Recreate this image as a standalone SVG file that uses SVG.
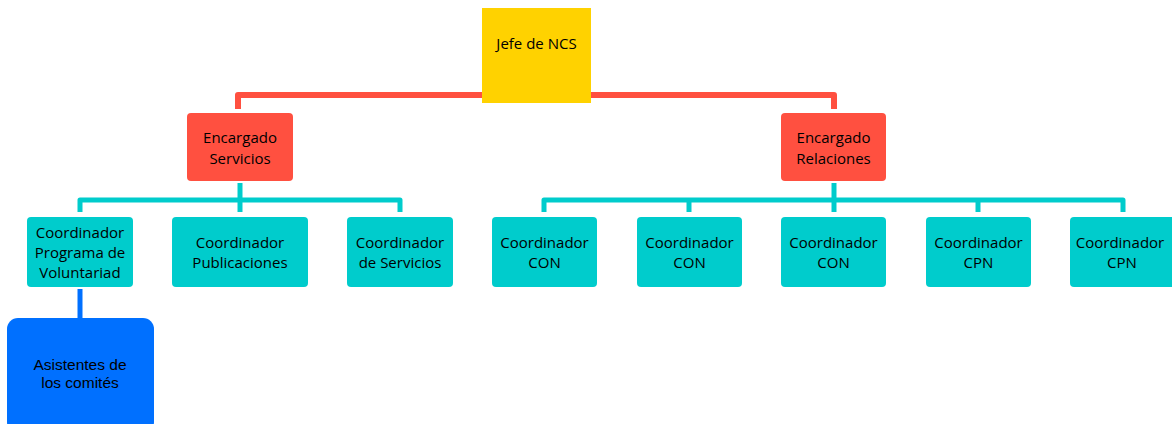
<svg xmlns="http://www.w3.org/2000/svg" width="1172" height="424" viewBox="0 0 1172 424">
<style>
.t{font-family:"Open Sans","Liberation Sans",sans-serif;font-size:15px;fill:#000;text-anchor:middle}
.a{font-family:"Liberation Sans",Arial,sans-serif;font-size:15.5px;fill:#000;text-anchor:middle}
.teal{fill:#00CCCC}
.red{fill:#FF5040}
.cr{fill:none;stroke:#FF5040;stroke-width:6;stroke-linejoin:round}
.ct{fill:none;stroke:#00CCCC;stroke-width:5;stroke-linejoin:round}
.cb{fill:none;stroke:#0070FF;stroke-width:5}
</style>
<rect width="1172" height="424" fill="#fff"/>
<g id="connectors">
<polyline class="cr" points="238,109 238,95 834,95 834,109"/>
<line class="cr" x1="537" y1="103" x2="537" y2="95"/>
<polyline class="ct" points="80,212 80,200 400,200 400,212"/>
<line class="ct" x1="240" y1="183" x2="240" y2="212"/>
<polyline class="ct" points="544,212 544,200 1123,200 1123,212"/>
<line class="ct" x1="689" y1="200" x2="689" y2="212"/>
<line class="ct" x1="978" y1="200" x2="978" y2="212"/>
<line class="ct" x1="834" y1="183" x2="834" y2="212"/>
<line class="cb" x1="80" y1="289" x2="80" y2="320"/>
</g>
<g id="jefe">
<rect x="482" y="8" width="109" height="95" fill="#FFD200"/>
<text class="t" x="536.5" y="49">Jefe de NCS</text>
</g>
<g id="enc-servicios">
<rect class="red" x="187" y="113" width="106" height="68" rx="4"/>
<text class="t" x="240" y="143">Encargado</text>
<text class="t" x="240" y="164">Servicios</text>
</g>
<g id="enc-relaciones">
<rect class="red" x="781" y="113" width="105" height="68" rx="4"/>
<text class="t" x="833.5" y="143">Encargado</text>
<text class="t" x="833.5" y="164">Relaciones</text>
</g>
<g id="coord-voluntariad">
<rect class="teal" x="27" y="217" width="106" height="70" rx="4"/>
<text class="t" x="80" y="238">Coordinador</text>
<text class="t" x="80" y="258">Programa de</text>
<text class="t" x="80" y="278">Voluntariad</text>
</g>
<g id="coord-publicaciones">
<rect class="teal" x="172" y="217" width="136" height="70" rx="4"/>
<text class="t" x="240" y="248">Coordinador</text>
<text class="t" x="240" y="268">Publicaciones</text>
</g>
<g id="coord-servicios">
<rect class="teal" x="347" y="217" width="106" height="70" rx="4"/>
<text class="t" x="400" y="248">Coordinador</text>
<text class="t" x="400" y="268">de Servicios</text>
</g>
<g id="coord-con1">
<rect class="teal" x="492" y="217" width="105" height="70" rx="4"/>
<text class="t" x="544.5" y="248">Coordinador</text>
<text class="t" x="544.5" y="268">CON</text>
</g>
<g id="coord-con2">
<rect class="teal" x="637" y="217" width="105" height="70" rx="4"/>
<text class="t" x="689.5" y="248">Coordinador</text>
<text class="t" x="689.5" y="268">CON</text>
</g>
<g id="coord-con3">
<rect class="teal" x="781" y="217" width="105" height="70" rx="4"/>
<text class="t" x="833.5" y="248">Coordinador</text>
<text class="t" x="833.5" y="268">CON</text>
</g>
<g id="coord-cpn1">
<rect class="teal" x="926" y="217" width="105" height="70" rx="4"/>
<text class="t" x="978.5" y="248">Coordinador</text>
<text class="t" x="978.5" y="268">CPN</text>
</g>
<g id="coord-cpn2">
<rect class="teal" x="1070" y="217" width="106" height="70" rx="4"/>
<text class="t" x="1120" y="248">Coordinador</text>
<text class="t" x="1122" y="268">CPN</text>
</g>
<g id="asistentes">
<rect x="7" y="318" width="147" height="115" rx="11" fill="#0070FF"/>
<text class="a" x="80" y="370">Asistentes de</text>
<text class="a" x="80" y="388">los comités</text>
</g>
</svg>
